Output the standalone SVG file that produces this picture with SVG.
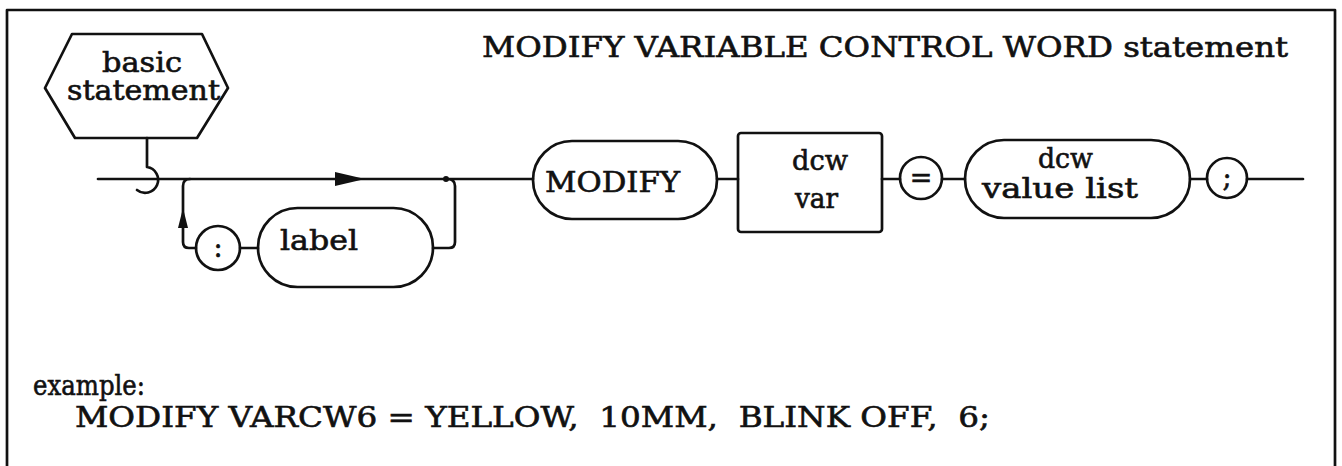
<svg xmlns="http://www.w3.org/2000/svg" width="1342" height="466" viewBox="0 0 1342 466">
<style>
.s{fill:none;stroke:#111;stroke-width:2.7;stroke-linecap:round;stroke-linejoin:round}
.t{font-family:"DejaVu Serif","Liberation Serif",serif;font-size:27px;fill:#111;stroke:#111;stroke-width:0.6}
.c{text-anchor:middle}
</style>
<rect width="1342" height="466" fill="#fff"/>
<path class="s" d="M7,466 V10 H1335 V466"/>
<text class="t" x="482" y="57" textLength="806" lengthAdjust="spacingAndGlyphs">MODIFY VARIABLE CONTROL WORD statement</text>
<g id="basic-statement">
<polygon class="s" points="72,34 202,34 228,88 197,138 75,138 45,88"/>
<text class="t" x="102" y="72" textLength="80" lengthAdjust="spacingAndGlyphs">basic</text>
<text class="t" x="67" y="100" textLength="153" lengthAdjust="spacingAndGlyphs">statement</text>
</g>
<g id="connectors">
<path class="s" d="M147,138 V167 A13,13 0 1 1 137,190"/>
<path class="s" d="M98,179 H533"/>
<polygon points="335,172 365,179 335,186" fill="#111"/>
<path class="s" d="M190,179 Q183,179 183,186 V242 Q183,248 189,248 H196"/>
<polygon points="183,208 178,228 188,228" fill="#111"/>
<path class="s" d="M240,248 H258"/>
<path class="s" d="M433,248 H449 Q455,248 455,242 V186 Q455,179 447,179"/>
<circle cx="446" cy="179" r="3" fill="#111"/>
<path class="s" d="M717,179 H738"/>
<path class="s" d="M882,179 H900"/>
<path class="s" d="M942,179 H965"/>
<path class="s" d="M1190,179 H1207"/>
<path class="s" d="M1247,179 H1303"/>
</g>
<g id="colon">
<circle class="s" cx="218" cy="248" r="22"/>
<text class="t c" x="218" y="257">:</text>
</g>
<g id="label">
<rect class="s" x="258" y="208" width="175" height="79" rx="39.5"/>
<text class="t" x="280" y="250" textLength="78" lengthAdjust="spacingAndGlyphs">label</text>
</g>
<g id="modify">
<rect class="s" x="533" y="141" width="184" height="78" rx="39"/>
<text class="t" x="545" y="192" textLength="135" lengthAdjust="spacingAndGlyphs">MODIFY</text>
</g>
<g id="dcw-var">
<rect class="s" x="738" y="133" width="144" height="99" rx="3"/>
<text class="t" x="792" y="170" textLength="56" lengthAdjust="spacingAndGlyphs">dcw</text>
<text class="t" x="795" y="208" textLength="43" lengthAdjust="spacingAndGlyphs">var</text>
</g>
<g id="equals">
<circle class="s" cx="921" cy="178" r="21"/>
<text class="t c" x="921" y="187">=</text>
</g>
<g id="dcw-value-list">
<rect class="s" x="965" y="140" width="225" height="78" rx="39"/>
<text class="t" x="1038" y="168" textLength="55" lengthAdjust="spacingAndGlyphs">dcw</text>
<text class="t" x="982" y="198" textLength="156" lengthAdjust="spacingAndGlyphs">value list</text>
</g>
<g id="semicolon">
<circle class="s" cx="1227" cy="178" r="20"/>
<text class="t c" x="1227" y="187">;</text>
</g>
<text class="t" x="33" y="395" textLength="112" lengthAdjust="spacingAndGlyphs">example:</text>
<text class="t" x="75" y="427" textLength="915" lengthAdjust="spacingAndGlyphs" xml:space="preserve">MODIFY VARCW6 = YELLOW,  10MM,  BLINK OFF,  6;</text>
</svg>
